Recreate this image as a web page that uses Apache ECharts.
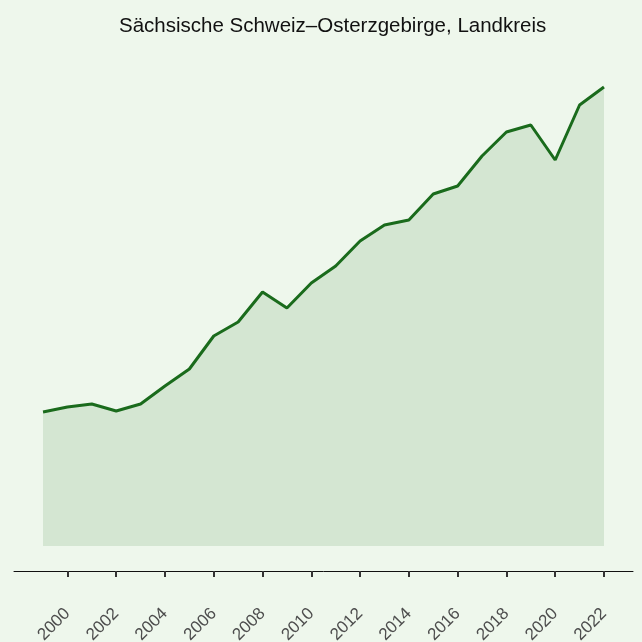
<!DOCTYPE html>
<html>
<head>
<meta charset="utf-8">
<script src="https://cdn.jsdelivr.net/npm/echarts@6/dist/echarts.min.js"></script>
<style>
	html, body { margin: 0; padding: 0; background: #eef7ec; }
	#chart { width: 642px; height: 642px; }
</style>
</head>
<body>
<div id="chart"></div>
<script>
var years = [1999, 2000, 2001, 2002, 2003, 2004, 2005, 2006, 2007, 2008, 2009, 2010,
	2011, 2012, 2013, 2014, 2015, 2016, 2017, 2018, 2019, 2020, 2021, 2022];
var values = [134, 139, 142, 135, 142, 160, 177, 210, 224, 254, 238, 263,
	280, 305, 321, 326, 352, 360, 390, 414, 421, 386, 441, 459];
var tickYears = [2000, 2002, 2004, 2006, 2008, 2010, 2012, 2014, 2016, 2018, 2020, 2022];
var title = "Sächsische Schweiz–Osterzgebirge, Landkreis";

var lineColor = "#1a6b1c";
var fillColor = "#d4e6d2";

var myChart = echarts.init(document.getElementById("chart"), null, { renderer: "canvas" });

var seriesData = years.map(function (y, i) {
	return [y, values[i]];
});

var option = {
	backgroundColor: "#eef7ec",
	animation: false,
	title: {
		text: title,
		left: 114,
		top: 11,
		textStyle: {
			fontFamily: "Liberation Sans",
			fontSize: 20.5,
			fontWeight: "normal",
			color: "#111"
		}
	},
	// 圖表位置
	grid: {
		left: 14,
		right: 9,
		top: 46,
		bottom: 96,
		outerBoundsMode: "none",
		containLabel: false
	},
	xAxis: {
		type: "value",
		min: 1999 - 1.19,
		max: 2022 + 1.19,
		offset: 25,
		splitLine: { show: false },
		axisLine: { show: true, onZero: false, lineStyle: { color: "#111", width: 1 } },
		axisTick: {
			show: true,
			length: 6,
			customValues: tickYears,
			lineStyle: { color: "#333", width: 2 }
		},
		axisLabel: {
			customValues: tickYears,
			rotate: 45,
			margin: 40,
			color: "#4d4d4d",
			fontFamily: "Liberation Sans",
			fontSize: 17,
			formatter: function (v) { return String(v); }
		}
	},
	yAxis: {
		type: "value",
		min: 0,
		max: 500,
		show: false
	},
	series: [
		{
			type: "line",
			data: seriesData,
			showSymbol: false,
			lineStyle: { color: lineColor, width: 3 },
			areaStyle: { color: fillColor, opacity: 1 }
		}
	]
};
myChart.setOption(option);
window.addEventListener("resize", myChart.resize);
</script>
</body>
</html>
